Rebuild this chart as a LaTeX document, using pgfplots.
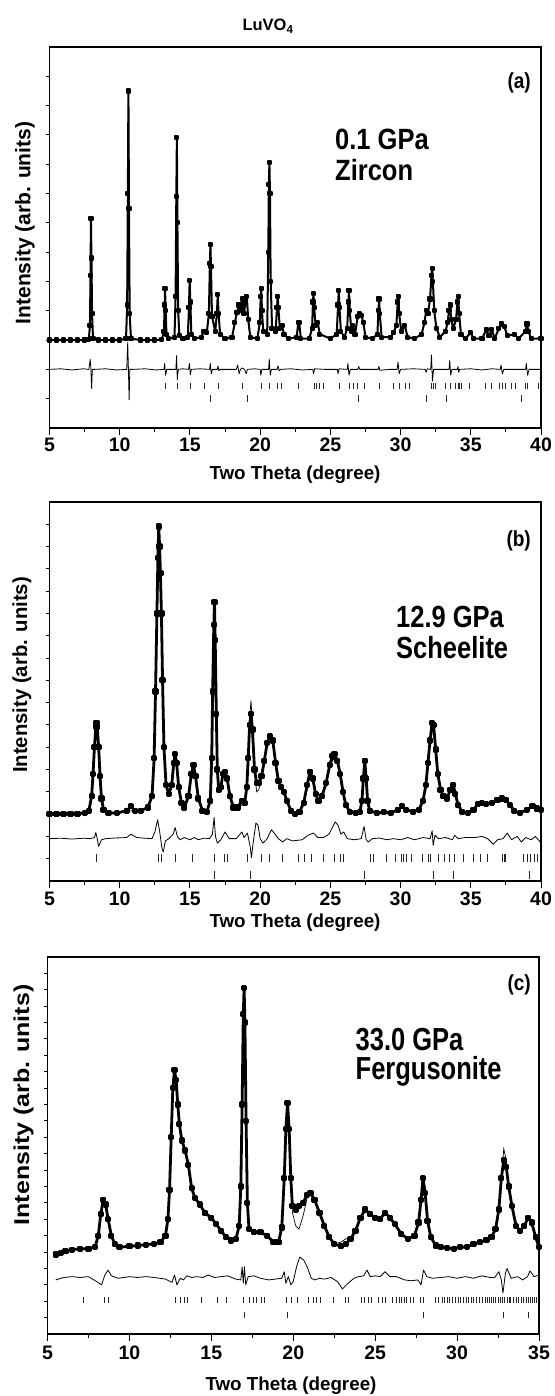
\documentclass[border=0pt]{standalone}
\usepackage{fontspec}
\setmainfont{Liberation Sans}[BoldFont={Liberation Sans Bold}]
\usepackage{graphicx}
\usepackage{pgfplots}
\usepackage{pgfplotstable}
\pgfplotsset{compat=1.18}

% panel (a): observed = calculated (fit coincides)
\pgfplotstableread{
x y
5.0 3.0
5.5 3.0
6.0 3.0
6.5 3.0
7.0 3.0
7.5 3.0
7.8 3.02
7.88 3.5
7.92 5.2
7.95 7.14
7.99 5.8
8.03 3.9
8.1 3.05
8.5 3.0
9.0 3.0
9.5 3.0
10.0 3.0
10.45 3.05
10.53 4.2
10.58 8.0
10.62 11.5
10.66 7.5
10.71 3.9
10.8 3.05
11.5 3.0
12.0 3.0
12.5 3.0
13.0 3.02
13.15 3.3
13.2 4.2
13.23 4.75
13.27 4.0
13.33 3.2
13.5 3.05
13.9 3.1
13.98 4.5
14.03 7.9
14.07 9.9
14.11 7.0
14.16 4.0
14.25 3.15
14.5 3.05
14.85 3.1
14.93 4.1
14.98 5.03
15.03 4.3
15.1 3.2
15.3 3.05
15.8 3.1
16.0 3.3
16.2 3.25
16.35 3.9
16.42 5.6
16.46 6.25
16.5 5.5
16.57 3.8
16.8 3.3
16.92 3.9
16.98 4.55
17.04 3.9
17.15 3.2
17.5 3.05
18.0 3.1
18.2 3.6
18.35 3.95
18.5 4.2
18.65 4.0
18.75 4.4
18.85 3.9
18.95 4.3
19.05 4.5
19.15 3.7
19.3 3.1
19.8 3.05
19.98 3.6
20.04 4.5
20.08 4.75
20.13 4.0
20.22 3.3
20.5 3.2
20.58 6.0
20.62 8.3
20.66 9.05
20.7 8.0
20.75 5.0
20.85 3.4
21.1 3.3
21.2 4.1
21.25 4.5
21.3 4.1
21.4 3.4
21.55 3.5
21.7 3.2
22.0 3.05
22.6 3.1
22.72 3.6
22.78 3.6
22.9 3.05
23.5 3.05
23.7 3.4
23.76 4.3
23.8 4.6
23.85 4.1
23.95 3.5
24.1 3.6
24.25 3.2
25.0 3.05
25.45 3.2
25.55 4.2
25.6 4.7
25.65 4.1
25.75 3.3
26.0 3.1
26.2 3.4
26.28 4.3
26.33 4.7
26.38 4.0
26.5 3.3
26.6 3.5
26.75 3.2
26.95 3.8
27.05 3.9
27.2 3.85
27.35 3.6
27.5 3.1
28.0 3.05
28.35 3.2
28.42 4.0
28.47 4.4
28.52 3.9
28.65 3.1
29.3 3.1
29.5 3.25
29.7 3.5
29.8 4.3
29.85 4.5
29.9 3.9
30.05 3.3
30.3 3.5
30.5 3.1
31.0 3.05
31.5 3.2
31.7 3.6
31.82 4.0
31.95 3.9
32.1 4.4
32.2 5.2
32.25 5.45
32.3 5.0
32.4 4.0
32.55 3.4
32.8 3.1
33.2 3.3
33.35 3.6
33.45 4.0
33.53 4.2
33.6 3.7
33.75 3.4
33.95 3.7
34.05 4.3
34.1 4.5
34.17 3.9
34.3 3.2
34.6 3.05
35.0 3.25
35.2 3.05
35.8 3.05
36.1 3.35
36.3 3.15
36.5 3.35
36.7 3.05
37.0 3.4
37.2 3.55
37.4 3.45
37.6 3.15
38.1 3.2
38.4 3.05
38.9 3.3
39.0 3.55
39.1 3.3
39.3 3.05
40.0 3.05
}\tabA

\pgfplotstableread{
x d
5.0 2.0
5.8 2.02
6.6 1.98
7.4 2.02
7.8 2.0
7.9 2.34
7.95 2.0
8.0 1.35
8.05 2.0
8.2 2.0
9.0 2.02
9.8 1.98
10.5 2.0
10.57 2.92
10.62 2.0
10.67 0.96
10.72 2.0
10.9 2.0
11.8 2.02
12.6 1.98
13.15 2.0
13.2 2.2
13.27 1.8
13.35 2.0
14.0 2.0
14.05 2.47
14.1 1.65
14.17 2.0
14.5 2.02
14.9 2.0
14.97 2.2
15.03 1.82
15.1 2.0
15.7 2.02
16.4 2.0
16.45 2.2
16.52 1.85
16.6 2.0
16.95 2.0
17.0 2.12
17.06 1.95
17.15 2.0
18.0 2.0
18.3 2.0
18.4 2.15
18.5 1.85
18.6 2.0
18.7 2.05
18.9 2.0
19.0 1.85
19.1 2.0
19.6 2.02
20.0 2.0
20.05 1.8
20.12 2.0
20.6 2.0
20.65 2.35
20.72 1.8
20.8 2.0
21.2 2.0
21.28 2.12
21.35 1.95
21.45 2.0
22.2 2.02
23.0 1.98
23.75 2.0
23.8 1.85
23.88 2.02
24.6 2.0
25.5 2.0
25.55 1.85
25.62 2.02
26.2 2.0
26.25 2.2
26.33 1.8
26.42 2.0
26.95 2.0
27.02 2.1
27.1 2.0
27.8 2.0
28.4 2.0
28.45 2.1
28.52 1.97
29.2 2.0
29.75 2.0
29.82 2.25
29.9 1.85
30.0 2.0
30.9 2.02
31.75 2.0
31.82 1.9
31.9 2.02
32.15 2.0
32.2 2.5
32.27 1.6
32.35 2.0
32.9 2.0
33.45 2.0
33.5 2.3
33.57 1.8
33.65 2.0
34.05 2.0
34.09 2.1
34.14 1.9
34.2 2.0
35.0 2.02
35.8 1.98
36.5 2.02
37.1 2.0
37.15 2.15
37.25 1.85
37.35 2.0
38.2 2.0
38.9 2.0
38.95 2.2
39.05 1.8
39.15 2.0
40.0 2.0
}\difA

% panel (b)
\pgfplotstableread{
x obs calc
5.0 3.0 3.0
5.5 3.0 3.0
6.0 3.0 3.0
6.5 3.02 3.02
7.0 3.02 3.02
7.5 3.05 3.05
7.8 3.15 3.15
8.0 3.8 3.8
8.1 4.8 4.8
8.2 6.0 6.0
8.3 6.9 6.9
8.35 7.1 7.1
8.4 6.9 6.9
8.5 6.0 6.0
8.6 4.7 4.7
8.7 3.7 3.7
8.85 3.2 3.2
9.2 3.05 3.05
9.8 3.05 3.05
10.5 3.15 3.1
10.8 3.35 3.15
11.1 3.15 3.1
11.5 3.15 3.15
12.0 3.3 3.3
12.3 3.8 3.8
12.45 5.5 5.5
12.55 8.5 8.5
12.65 12.0 12.0
12.72 14.5 14.5
12.78 15.9 15.6
12.84 15.0 15.0
12.9 13.8 13.8
12.97 12.0 12.0
13.05 9.0 9.0
13.15 6.0 6.0
13.3 4.3 4.3
13.5 3.9 3.9
13.7 4.3 4.3
13.85 5.3 5.3
13.95 5.7 5.6
14.05 5.3 5.3
14.2 4.2 4.2
14.4 3.5 3.5
14.6 3.3 3.3
14.9 3.8 3.8
15.1 4.8 4.8
15.25 5.2 5.2
15.4 4.7 4.7
15.6 3.7 3.7
15.9 3.15 3.15
16.2 3.1 3.1
16.45 3.6 3.6
16.55 5.5 5.5
16.62 8.5 8.5
16.7 11.5 11.0
16.75 12.5 11.6
16.8 10.8 10.5
16.88 7.5 7.5
16.95 5.0 5.0
17.05 4.1 4.1
17.2 4.2 4.2
17.35 4.8 4.8
17.5 4.9 4.9
17.65 4.6 4.6
17.85 3.8 3.8
18.1 3.3 3.3
18.4 3.3 3.3
18.7 3.6 3.4
18.9 3.5 3.5
19.05 4.2 4.2
19.15 5.5 5.5
19.25 7.0 7.3
19.35 7.5 8.1
19.45 6.8 7.0
19.6 5.0 5.0
19.75 4.4 4.0
19.9 4.4 4.1
20.1 4.7 4.6
20.3 5.4 5.4
20.5 6.2 6.2
20.7 6.5 6.5
20.9 6.3 6.3
21.1 5.3 5.3
21.3 4.5 4.5
21.5 4.2 4.2
21.7 4.0 4.1
21.9 3.6 3.6
22.2 3.15 3.15
22.5 3.0 3.0
22.8 3.1 3.1
23.1 3.5 3.5
23.35 4.3 4.3
23.55 4.9 4.9
23.75 4.6 4.6
23.95 3.9 3.9
24.15 3.6 3.6
24.4 3.8 3.8
24.7 4.4 4.4
24.95 5.2 5.1
25.15 5.6 5.4
25.3 5.7 5.5
25.5 5.4 5.3
25.7 4.8 4.8
25.9 4.0 4.0
26.1 3.4 3.4
26.4 3.1 3.1
26.8 3.05 3.05
27.1 3.1 3.1
27.25 3.6 3.6
27.35 4.6 4.6
27.45 5.4 5.3
27.55 4.6 4.6
27.65 3.6 3.6
27.8 3.15 3.15
28.3 3.05 3.05
28.8 3.1 3.1
29.3 3.05 3.05
29.8 3.2 3.2
30.1 3.35 3.3
30.4 3.2 3.2
30.9 3.1 3.1
31.3 3.2 3.2
31.6 3.6 3.6
31.8 4.3 4.3
31.95 5.3 5.3
32.1 6.3 6.3
32.25 7.1 7.1
32.35 7.0 7.0
32.5 5.9 5.9
32.65 4.8 4.8
32.85 4.1 4.1
33.05 3.8 3.8
33.3 3.7 3.7
33.55 4.1 4.1
33.75 4.3 4.3
33.9 3.9 3.9
34.1 3.4 3.4
34.4 3.1 3.1
34.8 3.05 3.05
35.2 3.2 3.2
35.5 3.45 3.45
35.8 3.5 3.5
36.1 3.45 3.45
36.5 3.5 3.5
36.9 3.65 3.65
37.2 3.7 3.7
37.5 3.65 3.65
37.8 3.4 3.4
38.1 3.15 3.15
38.5 3.05 3.05
39.0 3.2 3.2
39.4 3.35 3.35
39.7 3.25 3.25
40.0 3.2 3.2
}\tabB

\pgfplotstableread{
x d
5.0 1.9
5.8 1.92
6.6 1.88
7.4 1.92
7.9 1.9
8.2 1.95
8.3 2.17
8.4 1.9
8.5 1.55
8.7 1.85
9.0 1.9
9.7 1.93
10.5 1.95
10.8 2.1
11.2 1.95
11.8 1.92
12.3 1.9
12.5 2.2
12.7 2.75
12.85 2.2
13.0 1.5
13.1 1.3
13.25 1.8
13.5 1.9
13.8 2.1
13.95 2.4
14.1 2.0
14.3 1.85
14.6 1.95
15.0 1.85
15.3 1.95
15.6 1.85
16.0 1.92
16.4 1.9
16.6 2.1
16.72 2.85
16.82 2.0
16.95 1.7
17.2 1.85
17.5 2.2
17.8 1.9
18.3 1.9
18.7 2.2
18.85 1.95
19.1 2.15
19.3 1.5
19.38 1.05
19.5 1.7
19.7 2.6
19.85 2.5
20.0 1.9
20.2 1.7
20.5 1.9
20.8 2.3
21.0 2.15
21.3 1.9
21.6 1.75
21.9 1.9
22.3 1.8
23.0 1.85
23.4 2.05
23.8 2.15
24.1 1.95
24.5 1.95
24.9 2.1
25.35 2.65
25.55 2.5
25.75 2.1
25.95 2.2
26.2 1.9
26.7 1.85
27.2 1.9
27.4 2.45
27.55 1.85
27.7 1.75
28.0 1.9
28.5 1.93
29.0 1.85
29.5 1.9
30.0 1.85
30.5 1.95
31.0 1.85
31.6 1.95
32.1 1.9
32.25 2.25
32.32 1.6
32.45 2.05
32.7 1.9
33.2 1.95
33.7 1.85
33.85 2.05
34.1 1.9
34.6 1.95
35.3 1.95
35.8 2.0
36.2 1.9
36.6 1.65
36.9 1.85
37.3 1.9
37.6 2.15
37.9 1.85
38.3 2.0
38.6 1.75
38.9 1.95
39.3 1.85
39.6 2.0
40.0 1.7
}\difB

% panel (c)
\pgfplotstableread{
x obs calc
5.5 4.85 4.9
5.8 4.95 5.0
6.1 5.05 5.05
6.5 5.15 5.15
7.0 5.2 5.2
7.5 5.2 5.2
7.9 5.3 5.3
8.1 6.0 6.0
8.25 7.3 7.3
8.4 8.2 8.1
8.55 7.9 7.9
8.7 7.0 7.0
8.9 6.0 6.0
9.1 5.5 5.5
9.4 5.3 5.3
10.0 5.35 5.35
10.5 5.4 5.4
11.0 5.45 5.45
11.5 5.5 5.5
11.9 5.6 5.6
12.2 6.0 6.0
12.35 7.0 7.0
12.45 8.8 8.8
12.55 12.0 12.0
12.65 15.0 15.0
12.75 16.1 16.0
12.85 15.5 15.5
12.95 14.0 14.0
13.05 12.8 12.8
13.2 11.8 11.8
13.4 11.2 11.2
13.6 10.3 10.3
13.8 8.9 8.9
14.0 8.3 8.3
14.3 7.9 7.9
14.6 7.4 7.4
15.0 7.1 7.1
15.3 6.7 6.7
15.6 6.3 6.3
15.9 5.9 5.9
16.2 5.7 5.7
16.5 5.8 5.8
16.7 6.6 6.6
16.8 9.0 9.0
16.88 14.0 14.0
16.95 19.5 19.5
17.0 21.1 21.0
17.05 19.0 19.0
17.12 13.0 13.0
17.2 8.0 8.0
17.3 6.4 6.4
17.6 6.2 6.2
18.0 6.2 6.2
18.4 6.0 6.0
18.8 5.6 5.6
19.1 5.6 5.6
19.3 6.5 6.5
19.45 9.5 9.5
19.55 12.5 12.5
19.65 14.1 14.0
19.75 12.5 12.5
19.85 9.5 9.5
19.95 7.8 7.4
20.15 7.6 6.6
20.35 7.8 6.4
20.6 8.0 7.2
20.85 8.5 8.3
21.05 8.6 8.6
21.3 8.2 8.2
21.6 7.4 7.4
21.9 6.6 6.6
22.2 5.9 5.9
22.5 5.5 5.5
22.9 5.35 5.6
23.2 5.5 5.8
23.5 5.8 5.9
23.8 6.3 6.3
24.1 7.1 7.1
24.4 7.6 7.6
24.7 7.3 7.3
25.0 7.1 7.1
25.3 7.0 7.0
25.6 7.4 7.4
25.9 7.1 7.1
26.2 6.7 6.7
26.6 6.1 6.1
27.0 5.8 5.8
27.4 6.0 6.0
27.65 6.8 6.8
27.8 8.2 8.2
27.92 9.5 9.5
28.05 8.6 8.6
28.2 6.9 6.9
28.4 5.9 5.9
28.7 5.4 5.4
29.0 5.3 5.3
29.4 5.25 5.25
29.8 5.2 5.2
30.2 5.3 5.3
30.6 5.3 5.3
31.0 5.5 5.5
31.4 5.6 5.6
31.8 5.75 5.75
32.1 5.9 5.9
32.35 6.4 6.4
32.55 7.6 7.6
32.7 9.5 9.5
32.85 10.6 11.3
33.0 10.2 10.6
33.15 9.0 9.0
33.35 7.8 7.8
33.6 6.6 6.6
33.85 6.3 6.3
34.1 6.6 6.6
34.35 7.1 7.1
34.55 6.8 6.8
34.8 5.9 5.9
35.0 5.3 5.3
}\tabC

\pgfplotstableread{
x d
5.5 3.3
6.0 3.45
6.5 3.5
7.0 3.45
7.5 3.5
8.0 3.2
8.3 3.0
8.5 3.6
8.7 3.9
8.9 3.55
9.3 3.4
10.0 3.5
10.5 3.45
11.0 3.5
11.5 3.45
12.2 3.35
12.6 3.15
12.75 3.6
12.9 3.0
13.1 3.4
13.3 3.3
13.5 3.55
13.8 3.45
14.1 3.5
14.5 3.45
14.8 3.6
15.2 3.45
15.6 3.5
16.0 3.55
16.5 3.35
16.8 3.3
16.88 4.1
16.95 3.1
17.02 4.1
17.1 3.0
17.25 3.5
17.6 3.55
18.0 3.4
18.5 3.3
18.9 3.35
19.3 3.4
19.45 3.8
19.55 3.1
19.7 3.5
19.85 3.0
20.0 3.2
20.2 4.1
20.4 4.7
20.65 4.5
20.85 4.1
21.1 3.4
21.3 3.3
21.6 3.4
21.9 3.35
22.3 3.45
22.7 3.2
23.0 2.75
23.3 3.05
23.7 3.4
24.0 3.5
24.3 3.55
24.5 3.9
24.7 3.5
25.0 3.55
25.3 3.5
25.6 3.8
25.9 3.5
26.3 3.5
26.8 3.3
27.2 3.25
27.6 3.3
27.8 3.0
27.95 3.9
28.15 3.5
28.5 3.4
29.0 3.45
29.5 3.5
30.0 3.4
30.5 3.5
31.0 3.4
31.5 3.55
32.0 3.45
32.3 3.45
32.55 3.8
32.7 3.3
32.8 2.5
32.95 3.7
33.05 4.0
33.3 3.4
33.7 3.5
34.0 3.3
34.3 3.5
34.45 3.85
34.7 3.5
35.0 3.6
}\difC

\pgfplotsset{
  xrd/.style={
    scale only axis, width=491.5pt, ymin=0,
    axis line style={line width=1.1pt},
    tick style={line width=1pt, black},
    tick align=outside,
    major tick length=7pt, minor tick length=3.5pt,
    xtick pos=bottom, ytick pos=left,
    ytick={-10},
    minor x tick num=1,
    /pgf/number format/assume math mode=true,
    xticklabel style={font=\fontsize{19.5}{20}\selectfont\bfseries, inner sep=0pt},
  },
  obs/.style={black, line width=2.8pt, line join=round, mark=square*, mark size=1.7pt, mark options={solid}},
  calc/.style={black, line width=0.7pt, no marks},
  diff/.style={black, line width=0.8pt, no marks, line join=round},
  bragg/.style={only marks, mark=|, black!85, mark options={line width=0.8pt}},
}

\newcommand{\lab}[1]{\fontsize{25.5}{27}\selectfont\bfseries #1}

\begin{document}
\begin{tikzpicture}
\useasboundingbox (0,0) rectangle (554pt,-1396pt);

% ---------------- panel (a)
\begin{axis}[xrd, at={(49.5pt,-47pt)}, anchor=north west, height=381pt,
  xmin=5, xmax=40, ymax=13, xtick={5,10,...,40}, minor ytick={1,...,12},
  xticklabel style={yshift=-3pt}]
\addplot[obs, line width=2pt, mark size=1.6pt] table[x=x,y=y]{\tabA};
\addplot[calc] table[x=x,y=y]{\tabA};
\addplot[diff] table[x=x,y=d]{\difA};
\addplot[bragg, mark size=3.3pt] coordinates {
(13.26,1.43)(14.14,1.43)(15.02,1.43)(16.03,1.43)(17.01,1.43)(18.72,1.43)(20.11,1.43)(20.66,1.43)
(21.24,1.43)(21.54,1.43)(22.75,1.43)(23.84,1.43)(24.01,1.43)(24.19,1.43)(24.47,1.43)(25.65,1.43)
(26.33,1.43)(26.61,1.43)(26.96,1.43)(27.41,1.43)(28.5,1.43)(29.48,1.43)(29.93,1.43)(30.31,1.43)
(30.64,1.43)(32.2,1.43)(32.32,1.43)(32.45,1.43)(33.2,1.43)(33.58,1.43)(33.91,1.43)(34.09,1.43)
(34.21,1.43)(34.34,1.43)(34.92,1.43)(36.02,1.43)(36.48,1.43)(37.06,1.43)(37.28,1.43)(37.49,1.43)
(37.86,1.43)(38.19,1.43)(38.92,1.43)(39.05,1.43)(39.8,1.43)};
\addplot[bragg, mark size=3.3pt] coordinates {
(16.46,1.01)(19.06,1.01)(27.03,1.01)(31.82,1.01)(33.28,1.01)(38.62,1.01)};
\end{axis}

% ---------------- panel (b)
\begin{axis}[xrd, at={(49.5pt,-502pt)}, anchor=north west, height=379pt,
  xmin=5, xmax=40, ymax=17, xtick={5,10,...,40}, minor ytick={1,...,16},
  xticklabel style={yshift=-4pt}]
\addplot[obs] table[x=x,y=obs]{\tabB};
\addplot[calc] table[x=x,y=calc]{\tabB};
\addplot[diff] table[x=x,y=d]{\difB};
\addplot[bragg, mark size=4pt] coordinates {
(8.35,1.05)(12.76,1.05)(12.94,1.05)(13.94,1.05)(15.2,1.05)(16.71,1.05)(17.47,1.05)(17.64,1.05)
(19.1,1.05)(20.06,1.05)(20.66,1.05)(21.62,1.05)(22.7,1.05)(23.18,1.05)(23.64,1.05)(24.5,1.05)
(25.27,1.05)(25.7,1.05)(25.95,1.05)(27.87,1.05)(28.04,1.05)(28.97,1.05)(29.63,1.05)(30.06,1.05)
(30.23,1.05)(30.38,1.05)(30.74,1.05)(31.52,1.05)(31.95,1.05)(32.15,1.05)(32.7,1.05)(33.15,1.05)
(33.5,1.05)(33.83,1.05)(34.46,1.05)(35.22,1.05)(35.65,1.05)(36.18,1.05)(37.23,1.05)(37.36,1.05)
(37.49,1.05)(38.75,1.05)(39.0,1.05)(39.25,1.05)(39.5,1.05)(39.75,1.05)};
\addplot[bragg, mark size=4pt] coordinates {
(16.76,0.29)(19.3,0.29)(27.41,0.29)(32.32,0.29)(33.76,0.29)(39.17,0.29)};
\end{axis}

% ---------------- panel (c)
\begin{axis}[xrd, at={(47.5pt,-957pt)}, anchor=north west, height=377pt,
  xmin=5, xmax=35, ymax=23, xtick={5,10,...,35}, minor ytick={1,...,22},
  xticklabel style={yshift=-5pt}]
\addplot[obs] table[x=x,y=obs]{\tabC};
\addplot[calc] table[x=x,y=calc]{\tabC};
\addplot[diff] table[x=x,y=d]{\difC};
\addplot[bragg, mark size=3.3pt] coordinates {
(7.22,2.07)(8.45,2.07)(8.73,2.07)(12.78,2.07)(13.14,2.07)(13.36,2.07)(13.51,2.07)(14.37,2.07)
(15.34,2.07)(15.94,2.07)(16.97,2.07)(17.3,2.07)(17.56,2.07)(17.77,2.07)(18.03,2.07)(18.25,2.07)
(19.6,2.07)(19.86,2.07)(20.25,2.07)(20.94,2.07)(21.22,2.07)(21.43,2.07)(21.65,2.07)(22.47,2.07)
(23.16,2.07)(23.37,2.07)(24.17,2.07)(24.34,2.07)(24.56,2.07)(24.77,2.07)(25.2,2.07)(25.42,2.07)
(25.63,2.07)(26.06,2.07)(26.28,2.07)(26.45,2.07)(26.6,2.07)(26.77,2.07)(26.93,2.07)(27.14,2.07)
(27.31,2.07)(27.79,2.07)(27.92,2.07)(28.65,2.07)(28.86,2.07)(29.08,2.07)(29.25,2.07)(29.4,2.07)
(29.55,2.07)(29.73,2.07)(29.9,2.07)(30.05,2.07)(30.2,2.07)(30.37,2.07)(30.54,2.07)(30.69,2.07)
(30.85,2.07)(31.02,2.07)(31.19,2.07)(31.38,2.07)(31.56,2.07)(31.71,2.07)(31.88,2.07)(31.99,2.07)
(32.09,2.07)(32.2,2.07)(32.31,2.07)(32.52,2.07)(32.63,2.07)(32.74,2.07)(32.91,2.07)(33.06,2.07)
(33.17,2.07)(33.28,2.07)(33.43,2.07)(33.6,2.07)(33.77,2.07)(33.93,2.07)(34.03,2.07)(34.21,2.07)
(34.36,2.07)(34.46,2.07)(34.57,2.07)(34.72,2.07)(34.85,2.07)};
\addplot[bragg, mark size=3.3pt] coordinates {
(17.02,1.16)(19.65,1.16)(27.94,1.16)(32.85,1.16)(34.36,1.16)};
\end{axis}

% ---------------- texts
\node[inner sep=0pt] at (268pt,-26pt) {\fontsize{16.5}{18}\selectfont\bfseries LuVO\textsubscript{4}};

\node[inner sep=0pt, rotate=90] at (25pt,-223pt) {\fontsize{21}{22}\selectfont\bfseries Intensity (arb. units)};
\node[inner sep=0pt, rotate=90] at (22pt,-675pt) {\fontsize{20.3}{22}\selectfont\bfseries Intensity (arb. units)};
\node[inner sep=0pt, rotate=90] at (23.5pt,-1105pt) {\scalebox{1.16}[1]{\fontsize{21.5}{22}\selectfont\bfseries Intensity (arb. units)}};

\node[inner sep=0pt, anchor=base] at (295pt,-479pt) {\fontsize{18.8}{20}\selectfont\bfseries Two Theta (degree)};
\node[inner sep=0pt, anchor=base] at (295pt,-927pt) {\fontsize{18.8}{20}\selectfont\bfseries Two Theta (degree)};
\node[inner sep=0pt, anchor=base] at (291pt,-1390pt) {\fontsize{18.8}{20}\selectfont\bfseries Two Theta (degree)};

\node[inner sep=0pt, anchor=east] at (531pt,-83pt) {\scalebox{1}[1.15]{\fontsize{19}{20}\selectfont\bfseries (a)}};
\node[inner sep=0pt, anchor=east] at (531pt,-541pt) {\scalebox{1}[1.15]{\fontsize{19}{20}\selectfont\bfseries (b)}};
\node[inner sep=0pt, anchor=east] at (531pt,-985pt) {\scalebox{1}[1.15]{\fontsize{19}{20}\selectfont\bfseries (c)}};

\node[inner sep=0pt, anchor=base west] at (335pt,-150pt) {\scalebox{1}[1.15]{\lab{0.1 GPa}}};
\node[inner sep=0pt, anchor=base west] at (335pt,-181pt) {\scalebox{1}[1.15]{\lab{Zircon}}};
\node[inner sep=0pt, anchor=base west] at (396pt,-627pt) {\scalebox{1}[1.2]{\lab{12.9 GPa}}};
\node[inner sep=0pt, anchor=base west] at (396pt,-658pt) {\scalebox{1}[1.2]{\lab{Scheelite}}};
\node[inner sep=0pt, anchor=base west] at (355.5pt,-1050pt) {\scalebox{1}[1.25]{\lab{33.0 GPa}}};
\node[inner sep=0pt, anchor=base west] at (355.5pt,-1079pt) {\scalebox{1}[1.25]{\lab{Fergusonite}}};
\end{tikzpicture}
\end{document}
